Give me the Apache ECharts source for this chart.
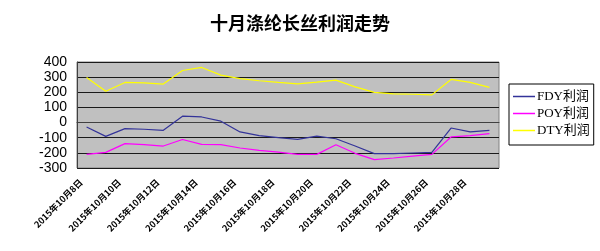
<!DOCTYPE html>
<html><head><meta charset="utf-8">
<script src="https://cdn.jsdelivr.net/npm/echarts@6/dist/echarts.min.js"></script>
<style>html,body{margin:0;padding:0;background:#fff}#c{width:600px;height:251px}</style>
</head><body><div id="c"></div>
<script>
const categories = ["2015年10月8日","2015年10月9日","2015年10月10日","2015年10月11日","2015年10月12日","2015年10月13日","2015年10月14日","2015年10月15日","2015年10月16日","2015年10月17日","2015年10月18日","2015年10月19日","2015年10月20日","2015年10月21日","2015年10月22日","2015年10月23日","2015年10月24日","2015年10月25日","2015年10月26日","2015年10月27日","2015年10月28日","2015年10月29日"];
const fdy = [-29,-91,-40,-44,-51,42,37,9,-62,-86,-100,-111,-89,-107,-155,-205,-205,-201,-197,-36,-62,-51];
const poy = [-210,-197,-139,-146,-155,-112,-144,-146,-168,-183,-195,-210,-210,-146,-203,-245,-234,-221,-210,-95,-86,-73];
const dty = [298,207,265,262,254,344,364,313,290,276,265,255,267,280,236,199,190,187,183,285,265,232];
const yTicks = {min:-300, max:400, step:100};
const seriesNames = ["FDY利润","POY利润","DTY利润"];

const chart = echarts.init(document.getElementById('c'), null, {renderer:'canvas'});
const mk = (name, data, color) => ({
  name, type:'line', data, symbol:'none', smooth:false,
  lineStyle:{color, width:1.2}, itemStyle:{color}
});
chart.setOption({
  animation:false,
  title:{text:'十月涤纶长丝利润走势', left:'center', top:9,
    textStyle:{fontFamily:'Noto Sans CJK SC', fontWeight:'bold', fontSize:18, color:'#000'}},
  grid:{left:77, right:101, top:62, bottom:83, show:true, backgroundColor:'#c0c0c0', borderColor:'#808080', borderWidth:1},
  legend:{orient:'vertical', left:509, top:84, padding:[6,4,8,4], itemGap:4,
    icon:'rect', itemWidth:22, itemHeight:1.5, borderColor:'#000', borderWidth:1,
    textStyle:{fontFamily:'Liberation Serif, Noto Sans CJK SC', fontSize:13, color:'#000', padding:[0,0,0,-3]},
    data:seriesNames},
  xAxis:{type:'category', data:categories, boundaryGap:true,
    axisLine:{lineStyle:{color:'#404040', width:1}},
    axisTick:{interval:1, length:4, lineStyle:{color:'#000'}},
    axisLabel:{interval:1, rotate:45, fontSize:9, fontWeight:'bold', color:'#000', margin:7,
      padding:[0,8,0,0], fontFamily:'Noto Sans CJK SC'},
    splitLine:{show:false}},
  yAxis:{type:'value', min:yTicks.min, max:yTicks.max, interval:yTicks.step,
    axisLine:{show:true, lineStyle:{color:'#404040'}},
    axisTick:{show:false},
    axisLabel:{fontSize:14, color:'#000', margin:10, fontFamily:'Liberation Sans'},
    splitLine:{lineStyle:{color:'#1a1a1a', width:1}}},
  series:[mk(seriesNames[0], fdy, '#333399'), mk(seriesNames[1], poy, '#ff00ff'), mk(seriesNames[2], dty, '#ffff00')]
});
</script></body></html>
